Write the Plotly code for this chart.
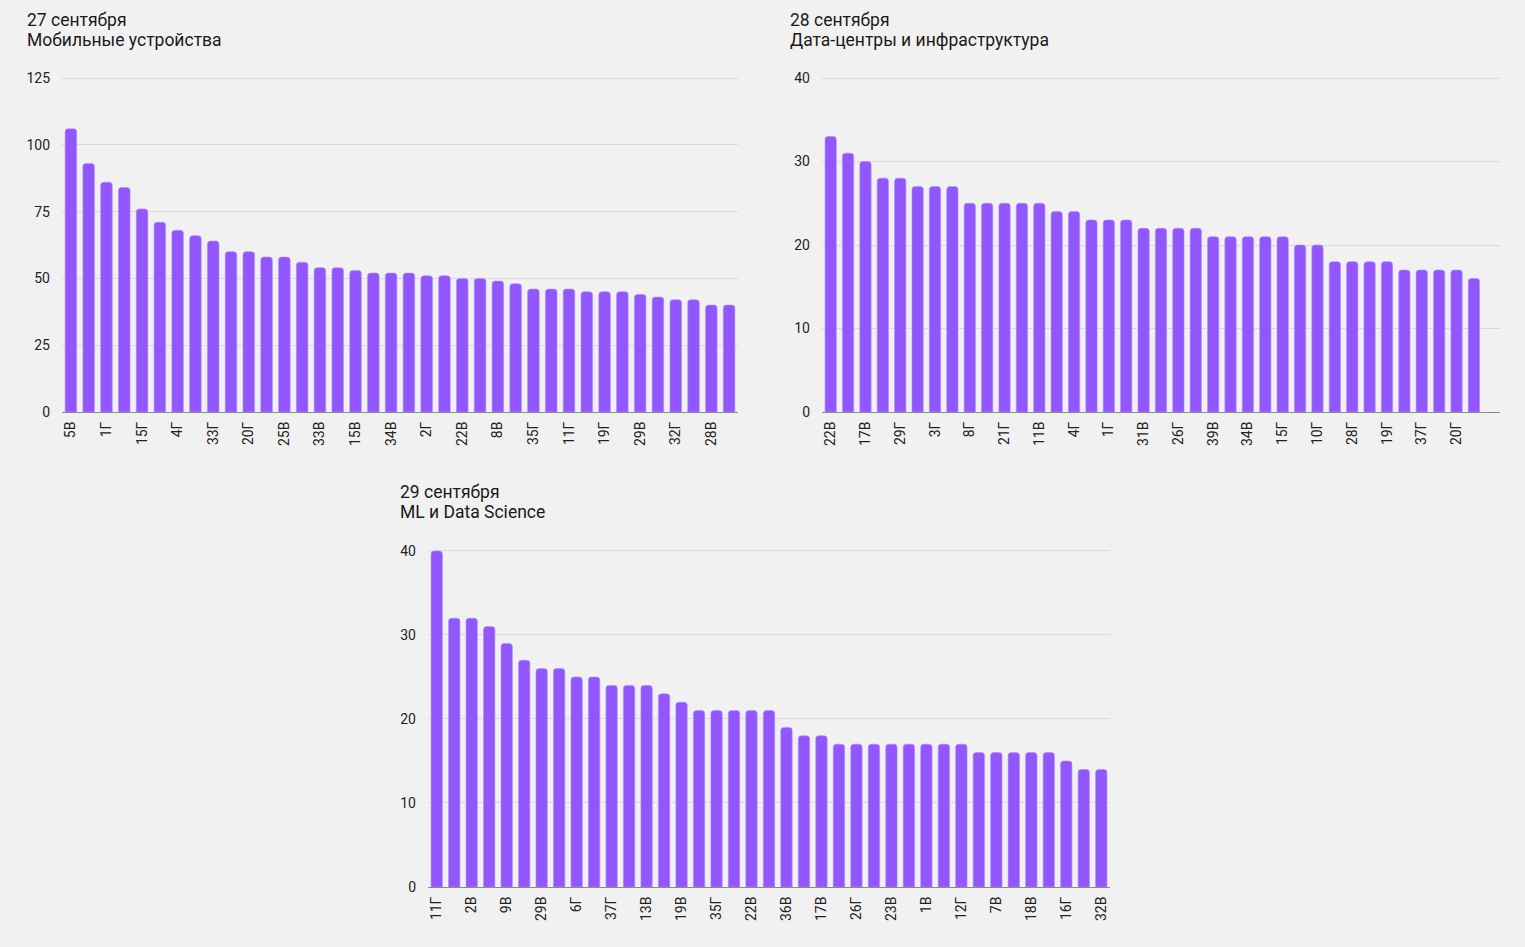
import plotly.graph_objects as go

# Chart 1: 27 сентября — Мобильные устройства (every other label is visible)
labels1 = ["5В", "1Г", "15Г", "4Г", "33Г", "20Г", "25В", "33В", "15В", "34В",
           "2Г", "22В", "8В", "35Г", "11Г", "19Г", "29В", "32Г", "28В"]
values1 = [106, 93, 86, 84, 76, 71, 68, 66, 64, 60, 60, 58, 58, 56, 54, 54, 53, 52, 52,
           52, 51, 51, 50, 50, 49, 48, 46, 46, 46, 45, 45, 45, 44, 43, 42, 42, 40, 40]

# Chart 2: 28 сентября — Дата-центры и инфраструктура
labels2 = ["22В", "17В", "29Г", "3Г", "8Г", "21Г", "11В", "4Г", "1Г", "31В",
           "26Г", "39В", "34В", "15Г", "10Г", "28Г", "19Г", "37Г", "20Г"]
values2 = [33, 31, 30, 28, 28, 27, 27, 27, 25, 25, 25, 25, 25, 24, 24, 23, 23, 23, 22,
           22, 22, 22, 21, 21, 21, 21, 21, 20, 20, 18, 18, 18, 18, 17, 17, 17, 17, 16]

# Chart 3: 29 сентября — ML и Data Science
labels3 = ["11Г", "2В", "9В", "29В", "6Г", "37Г", "13В", "19В", "35Г", "22В",
           "36В", "17В", "26Г", "23В", "1В", "12Г", "7В", "18В", "16Г", "32В"]
values3 = [40, 32, 32, 31, 29, 27, 26, 26, 25, 25, 24, 24, 24, 23, 22, 21, 21, 21, 21, 21,
           19, 18, 18, 17, 17, 17, 17, 17, 17, 17, 17, 16, 16, 16, 16, 16, 15, 14, 14]

titles = [("27 сентября", "Мобильные устройства"),
          ("28 сентября", "Дата-центры и инфраструктура"),
          ("29 сентября", "ML и Data Science")]

BAR = "#9157FD"
BG = "#F1F1F1"
W, H = 1525, 947
EXTRA = 0.012  # small headroom so the top gridline is drawn

fig = go.Figure()

panels = [
    dict(vals=values1, labs=labels1, x0=62, x1=738, ytop=78, ybot=412, ymax=125, dtick=25, nslots=38),
    dict(vals=values2, labs=labels2, x0=822, x1=1500, ytop=78, ybot=412, ymax=40, dtick=10, nslots=39),
    dict(vals=values3, labs=labels3, x0=428, x1=1110, ytop=551, ybot=887, ymax=40, dtick=10, nslots=39),
]
title_pos = [(25, 20), (788, 20), (398, 492)]

for i, p in enumerate(panels):
    k = "" if i == 0 else str(i + 1)
    xs = list(range(len(p["vals"])))
    fig.add_trace(go.Bar(x=xs, y=p["vals"], marker=dict(color=BAR, line=dict(width=0.6, color="#B08BFF")),
                         xaxis="x" + k, yaxis="y" + k, showlegend=False,
                         hovertemplate="%{y}<extra></extra>"))
    tickvals = list(range(0, len(p["vals"]), 2))
    span = p["ybot"] - p["ytop"]
    top_px = p["ybot"] - span * (1 + EXTRA)
    fig.layout["xaxis" + k] = dict(
        domain=[p["x0"] / W, p["x1"] / W], anchor="y" + k, automargin=False,
        range=[-0.5, p["nslots"] - 0.5], tickmode="array", tickvals=tickvals,
        ticktext=p["labs"][:len(tickvals)], tickangle=-90, showgrid=False,
        showline=True, linecolor="#8A8A8A", linewidth=1, ticks="", ticklabelstandoff=3,
        tickfont=dict(family="Roboto", size=14, color="#222222"), fixedrange=True)
    fig.layout["yaxis" + k] = dict(
        domain=[1 - p["ybot"] / H, 1 - top_px / H], anchor="x" + k, automargin=False,
        range=[0, p["ymax"] * (1 + EXTRA)], tick0=0, dtick=p["dtick"], showgrid=True,
        gridcolor="#DADADA", gridwidth=1, zeroline=False, showline=False, ticks="",
        ticklabelstandoff=11,
        tickfont=dict(family="Roboto", size=14, color="#222222"), fixedrange=True)
    tx, ty = title_pos[i]
    for j, line in enumerate(titles[i]):
        fig.add_annotation(xref="paper", yref="paper", x=tx / W, y=1 - (ty + 20 * j) / H,
                           xanchor="left", yanchor="middle", align="left", showarrow=False,
                           text=line, font=dict(family="Roboto", size=17.5, color="#1A1A1A"))

fig.update_layout(width=W, height=H, margin=dict(l=0, r=0, t=0, b=0, pad=0),
                  paper_bgcolor=BG, plot_bgcolor=BG, bargap=0.35, barcornerradius=3,
                  font=dict(family="Roboto"))

fig.write_html("out.html", config={"displayModeBar": False},
               post_script=("document.body.style.margin='0';"
                            "document.body.style.background='#F1F1F1';"
                            "document.body.style.overflow='hidden';"))
